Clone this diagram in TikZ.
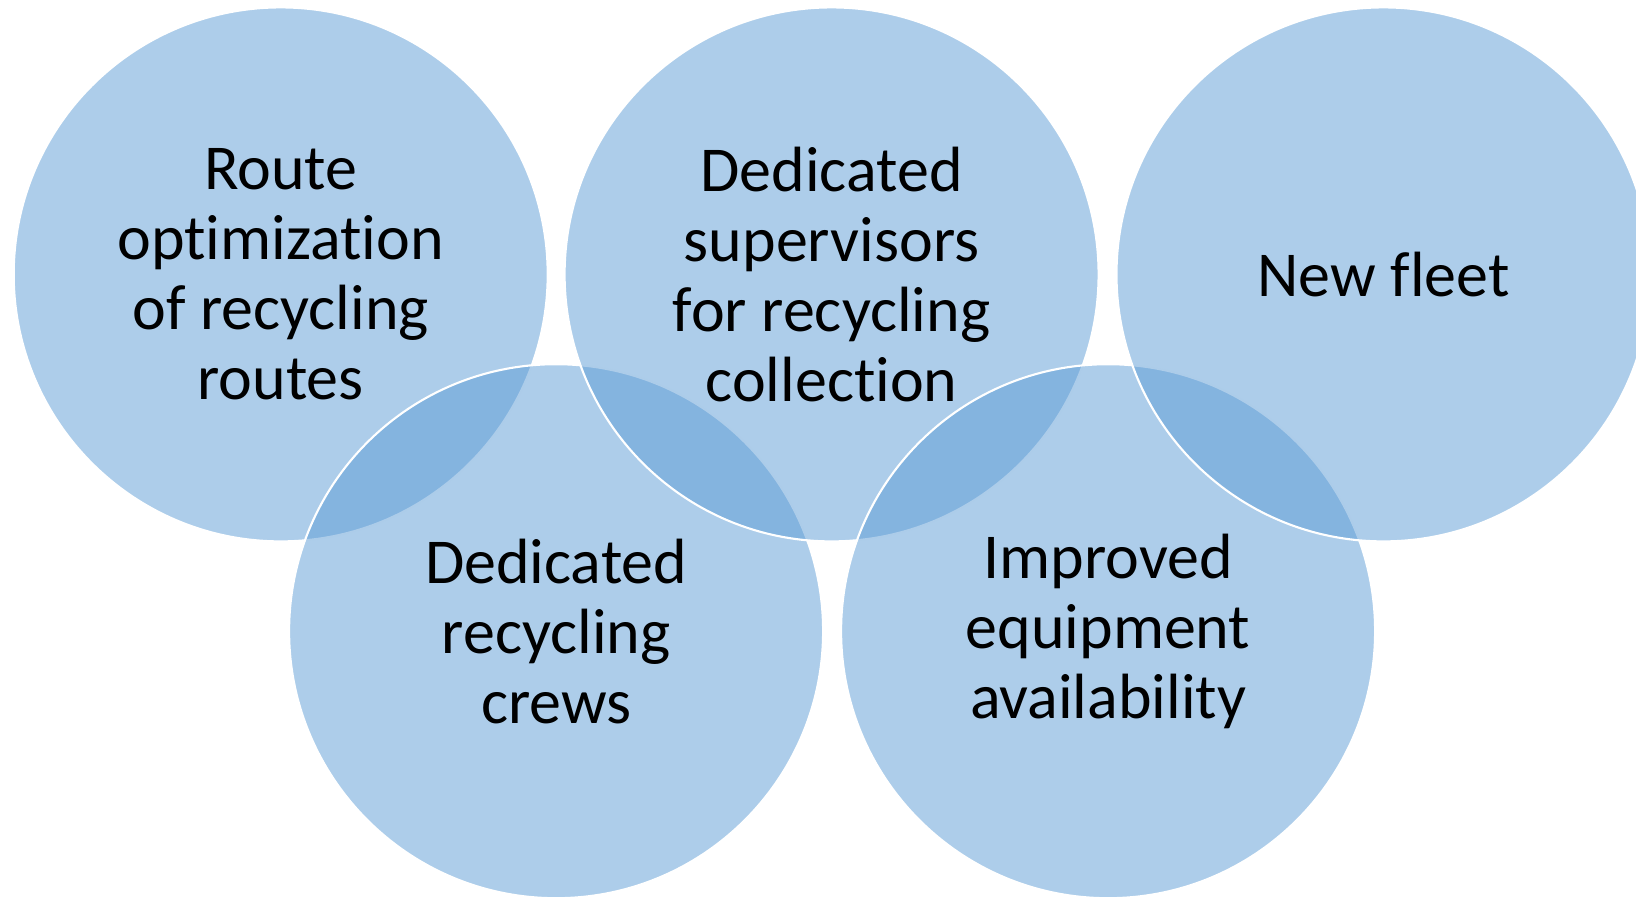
\documentclass[tikz,border=0pt]{standalone}
\usepackage{fontspec}
\setmainfont[Ligatures=NoCommon]{Carlito}
\usepackage{tikz}
\definecolor{vennblue}{HTML}{5B9BD5}
\tikzset{venn/.style={circle, minimum size=5.34cm, inner sep=0pt,
    fill=vennblue, fill opacity=0.5, text opacity=1,
    draw=white, line width=0.6pt, align=center,
    font=\fontsize{18.2}{19.9}\selectfont}}

\begin{document}
\begin{tikzpicture}[y=-1cm]
		%%%%% START %%%%%
		\useasboundingbox (0, 0) rectangle (16.36, 8.98);
		
		\node[venn] (route) at (2.807, 2.744) {Route\\optimization\\of recycling\\routes};
		\node[venn] (crews) at (5.561, 6.312) {Dedicated\\recycling\\crews};
		\node[venn] (supervisors) at (8.316, 2.744) {Dedicated\\supervisors\\for recycling\\collection};
		\node[venn] (equipment) at (11.081, 6.312) {Improved\\equipment\\availability};
		\node[venn] (fleet) at (13.835, 2.744) {New fleet};
		
		%%%%% END %%%%%
	\end{tikzpicture}
\end{document}
